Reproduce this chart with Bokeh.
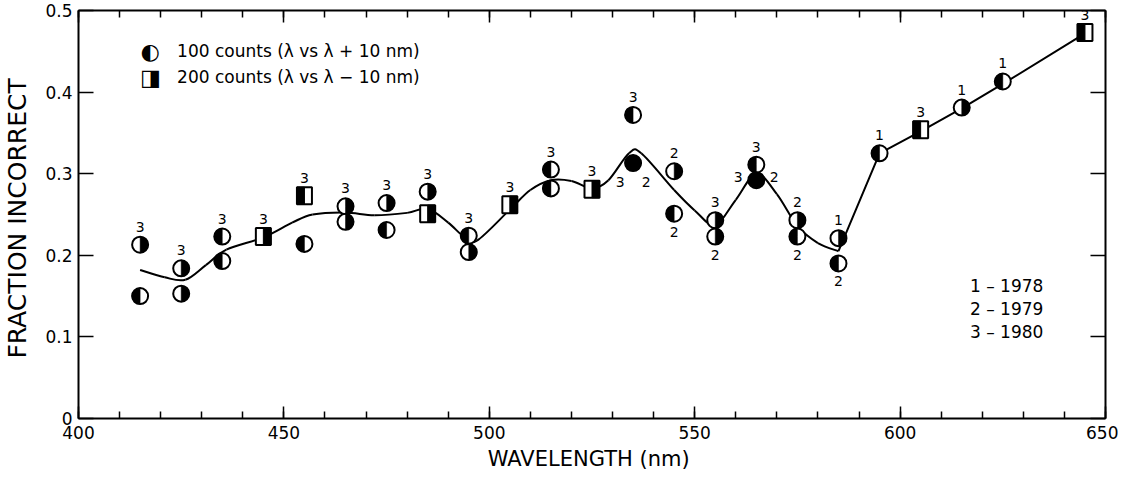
import numpy as np
from bokeh.plotting import figure
from bokeh.models import SingleIntervalTicker, LinearAxis, Range1d, Label, ColumnDataSource
from bokeh.core.properties import value
from bokeh.embed import file_html
from bokeh.resources import INLINE

# ---------------- data ----------------
# 100-count pairs (circles): wavelength, fraction incorrect, which half is black (L/R) or full (F)
c_wl = [415, 415, 425, 425, 435, 435, 455, 465, 465, 475, 475, 485, 495, 495, 515, 515,
        535, 535, 545, 545, 555, 555, 565, 565, 575, 575, 585, 585, 595, 615, 625]
c_frac = [0.213, 0.150, 0.184, 0.153, 0.223, 0.193, 0.214, 0.260, 0.241, 0.264, 0.231, 0.278,
          0.224, 0.204, 0.305, 0.282, 0.372, 0.313, 0.303, 0.251, 0.243, 0.223, 0.311, 0.292,
          0.243, 0.223, 0.221, 0.190, 0.325, 0.381, 0.413]
c_fill = ["R", "L", "R", "R", "L", "L", "L", "R", "R", "R", "L", "R", "L", "R", "L", "L",
          "L", "F", "R", "L", "R", "R", "L", "F", "R", "L", "R", "L", "L", "R", "L"]

# 200-count pairs (squares)
s_wl = [445, 455, 485, 505, 525, 605, 645]
s_frac = [0.223, 0.273, 0.251, 0.262, 0.281, 0.354, 0.473]
s_fill = ["R", "L", "R", "R", "R", "L", "L"]

# year labels next to markers
lab_wl = [415, 425, 435, 445, 455, 465, 475, 485, 495, 505, 515, 525, 535, 535, 535,
          545, 545, 555, 555, 565, 565, 565, 575, 575, 585, 585, 595, 605, 615, 625, 645]
lab_frac = [0.213, 0.184, 0.223, 0.223, 0.273, 0.260, 0.264, 0.278, 0.224, 0.262, 0.305, 0.281,
            0.372, 0.313, 0.313, 0.303, 0.251, 0.243, 0.223, 0.311, 0.292, 0.292, 0.243, 0.223,
            0.221, 0.190, 0.325, 0.354, 0.381, 0.413, 0.473]
lab_text = ["3", "3", "3", "3", "3", "3", "3", "3", "3", "3", "3", "3", "3", "3", "2",
            "2", "2", "3", "2", "3", "3", "2", "2", "2", "1", "2", "1", "3", "1", "1", "3"]
lab_pos = ["above", "above", "above", "above", "above", "above", "above", "above", "above", "above",
           "above", "above", "above", "belowleft", "belowright", "above", "below", "above", "below",
           "above", "left", "right", "above", "below", "above", "below", "above", "above", "above",
           "above", "above"]

# smooth trend curve (knots) and straight trend part
curve_wl = [415, 421, 426, 431, 436, 445, 452, 457, 465, 472, 480, 485, 490, 494, 497,
            505, 510, 515, 520, 525, 529, 534, 537, 545, 550, 555, 560, 565, 570, 575, 580, 585]
curve_frac = [0.182, 0.173, 0.170, 0.188, 0.207, 0.222, 0.240, 0.250, 0.2525, 0.249, 0.252, 0.257,
              0.240, 0.222, 0.218, 0.256, 0.280, 0.292, 0.291, 0.282, 0.292, 0.325, 0.325, 0.280,
              0.255, 0.237, 0.268, 0.300, 0.275, 0.236, 0.215, 0.205]
trend_wl = [585, 595, 605, 615, 625, 645]
trend_frac = [0.205, 0.325, 0.352, 0.380, 0.410, 0.472]

legend_items = ["100 counts (\u03bb vs \u03bb + 10 nm)", "200 counts (\u03bb vs \u03bb \u2212 10 nm)"]
year_items = ["1 \u2013 1978", "2 \u2013 1979", "3 \u2013 1980"]

# ---------------- figure ----------------
FONT = "DejaVu Sans"
X0, X1, Y0, Y1 = 400, 650, 0, 0.5
p = figure(width=1118, height=476, x_range=Range1d(X0, X1), y_range=Range1d(Y0, Y1),
           output_backend="svg", toolbar_location=None, x_axis_location=None, y_axis_location=None)
p.min_border_left = 77
p.min_border_right = 13
p.min_border_top = 10
p.min_border_bottom = 58
p.xgrid.visible = False
p.ygrid.visible = False
p.outline_line_color = None
p.background_fill_color = "white"

frame_w = 1028.0
px_per_nm = frame_w / (X1 - X0)


def make_x(loc, show):
    ax = LinearAxis(ticker=SingleIntervalTicker(interval=50, num_minor_ticks=5))
    ax.axis_line_width = 2
    ax.major_tick_in = 12
    ax.major_tick_out = 0
    ax.minor_tick_in = 7
    ax.minor_tick_out = 0
    ax.major_tick_line_width = 1.5
    ax.minor_tick_line_width = 1.5
    if show:
        ax.major_label_text_font = FONT
        ax.major_label_text_font_size = "17px"
        ax.major_label_text_color = "black"
        ax.major_label_standoff = 7
        ax.axis_label = "WAVELENGTH  (nm)"
        ax.axis_label_text_font = FONT
        ax.axis_label_text_font_size = "21px"
        ax.axis_label_text_font_style = "normal"
        ax.axis_label_text_color = "black"
        ax.axis_label_standoff = 5
    else:
        ax.major_label_text_font_size = "1px"
        ax.major_label_text_color = None
        ax.major_label_standoff = 0
    p.add_layout(ax, loc)


def make_y(loc, show):
    ax = LinearAxis(ticker=SingleIntervalTicker(interval=0.1, num_minor_ticks=0))
    ax.axis_line_width = 2
    ax.major_tick_in = 15
    ax.major_tick_out = 0
    ax.minor_tick_in = 0
    ax.minor_tick_out = 0
    ax.major_tick_line_width = 1.5
    if show:
        ax.major_label_overrides = {0: "0"}
        ax.major_label_text_font = FONT
        ax.major_label_text_font_size = "17px"
        ax.major_label_text_color = "black"
        ax.major_label_standoff = 6
        ax.axis_label = "FRACTION  INCORRECT"
        ax.axis_label_text_font = FONT
        ax.axis_label_text_font_size = "25px"
        ax.axis_label_text_font_style = "normal"
        ax.axis_label_text_color = "black"
        ax.axis_label_standoff = 10
    else:
        ax.major_label_text_font_size = "1px"
        ax.major_label_text_color = None
        ax.major_label_standoff = 0
    p.add_layout(ax, loc)


make_x("below", True)
make_x("above", False)
make_y("left", True)
make_y("right", False)

# ---------------- trend curve (Catmull-Rom -> Bezier) ----------------
cx = np.array(curve_wl, dtype=float)
cy = np.array(curve_frac, dtype=float)
px = np.concatenate([[cx[0]], cx, [cx[-1]]])
py = np.concatenate([[cy[0]], cy, [cy[-1]]])
bz = dict(x0=[], y0=[], x1=[], y1=[], cx0=[], cy0=[], cx1=[], cy1=[])
for i in range(1, len(px) - 2):
    bz["x0"].append(px[i]); bz["y0"].append(py[i])
    bz["x1"].append(px[i + 1]); bz["y1"].append(py[i + 1])
    bz["cx0"].append(px[i] + (px[i + 1] - px[i - 1]) / 6.0)
    bz["cy0"].append(py[i] + (py[i + 1] - py[i - 1]) / 6.0)
    bz["cx1"].append(px[i + 1] - (px[i + 2] - px[i]) / 6.0)
    bz["cy1"].append(py[i + 1] - (py[i + 2] - py[i]) / 6.0)
p.bezier(x0="x0", y0="y0", x1="x1", y1="y1", cx0="cx0", cy0="cy0", cx1="cx1", cy1="cy1",
         source=ColumnDataSource(bz), line_color="black", line_width=2)
p.line(trend_wl, trend_frac, line_color="black", line_width=2)

# ---------------- circles ----------------
R = 8
p.scatter(c_wl, c_frac, marker="circle", size=2 * R, fill_color="white",
          line_color="black", line_width=2)
starts = {"L": np.pi / 2, "R": -np.pi / 2, "F": 0.0}
ends = {"L": 3 * np.pi / 2, "R": np.pi / 2, "F": 2 * np.pi}
wsrc = ColumnDataSource(dict(x=c_wl, y=c_frac,
                             s=[starts[f] for f in c_fill], e=[ends[f] for f in c_fill]))
p.wedge(x="x", y="y", radius=R, radius_units="screen", start_angle="s", end_angle="e",
        source=wsrc, fill_color="black", line_color="black", line_width=0.5)

# ---------------- squares ----------------
SW, SH = 15, 17
p.rect(s_wl, s_frac, width=SW, height=SH, width_units="screen", height_units="screen",
       fill_color="white", line_color="black", line_width=2)
half_nm = (SW / 2.0) / px_per_nm
hx = [w - half_nm / 2 if f == "L" else w + half_nm / 2 for w, f in zip(s_wl, s_fill)]
p.rect(hx, s_frac, width=half_nm, height=SH, height_units="screen",
       fill_color="black", line_color="black", line_width=1)

# ---------------- labels near markers ----------------
offs = {"above": (0, -18), "below": (0, 18), "belowleft": (-13, 19), "belowright": (13, 19),
        "left": (-18, -3), "right": (18, -3)}
lsrc = ColumnDataSource(dict(x=lab_wl, y=lab_frac, t=lab_text,
                             xo=[offs[k][0] for k in lab_pos], yo=[offs[k][1] for k in lab_pos]))
p.text(x="x", y="y", text="t", x_offset="xo", y_offset="yo", source=lsrc,
       text_font=value(FONT), text_font_size="14px", text_align="center",
       text_baseline="middle", text_color="black")

# ---------------- legends ----------------
leg_icons = ["\u25d0", "\u25e8"]
leg_y = [0.450, 0.418]
for icon, txt, yy in zip(leg_icons, legend_items, leg_y):
    p.add_layout(Label(x=417.5, y=yy, text=icon, text_font=FONT, text_font_size="22px",
                       text_align="center", text_baseline="middle", text_color="black"))
    p.add_layout(Label(x=424.0, y=yy, text=txt, text_font=FONT, text_font_size="17px",
                       text_align="left", text_baseline="middle", text_color="black"))

year_y = [0.162, 0.134, 0.106]
for txt, yy in zip(year_items, year_y):
    p.add_layout(Label(x=617.0, y=yy, text=txt, text_font=FONT, text_font_size="17px",
                       text_align="left", text_baseline="middle", text_color="black"))

open("out.html", "w").write(file_html(p, INLINE))
